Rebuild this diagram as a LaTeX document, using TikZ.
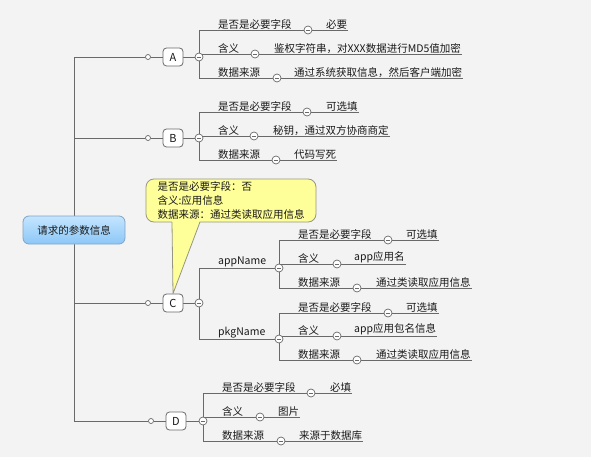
\documentclass[tikz,border=0pt]{standalone}
\usepackage{fontspec}
\setmainfont{Noto Sans CJK SC}
\usetikzlibrary{calc}
\definecolor{wiregray}{RGB}{105,105,105}
\definecolor{inkgray}{RGB}{25,25,25}
\definecolor{bgfill}{RGB}{243,243,243}
\definecolor{rootTop}{RGB}{196,229,255}
\definecolor{rootBot}{RGB}{140,199,247}
\definecolor{rootEdge}{RGB}{128,164,200}
\definecolor{noteFill}{RGB}{255,255,153}
\definecolor{noteEdge}{RGB}{150,150,130}
\pgfdeclarelayer{lines}
\pgfsetlayers{lines,main}
\tikzset{
	wire/.style={draw=wiregray, line width=0.8pt},
	rootbox/.style={rounded corners=6pt, draw=rootEdge, line width=0.8pt, top color=rootTop, bottom color=rootBot, minimum width=102pt, minimum height=28pt, inner sep=0pt},
	topic/.style={rounded corners=3.5pt, draw=wiregray, line width=0.8pt, fill=white, minimum width=20pt, minimum height=18pt, inner sep=0pt, font=\fontsize{11}{12}\selectfont},
	knob/.style={circle, draw=wiregray, line width=0.7pt, fill=white, inner sep=0pt, minimum size=5pt},
	fold/.style={circle, draw=wiregray, line width=0.7pt, fill=white, inner sep=0pt, minimum size=8pt,
		path picture={\draw[wiregray, line width=0.6pt] ([xshift=-2.2pt]path picture bounding box.center) -- ([xshift=2.2pt]path picture bounding box.center);}},
	leaf/.style={anchor=south west, inner xsep=1pt, inner ysep=0.6pt},
	note/.style={rounded corners=8pt, draw=noteEdge, line width=0.8pt, fill=noteFill, minimum width=170pt, minimum height=43pt, align=left, inner sep=0pt}
}

\begin{document}
\begin{tikzpicture}[x=1pt,y=-1pt,font=\fontsize{10.5}{14}\selectfont,text=inkgray]
	%%%%% START %%%%%
	\useasboundingbox (0,0) rectangle (591,457);
	
	\node[rootbox] (root) at (74,230) {请求的参数信息};
	
	% A
	\node[knob] (adot) at (148,57) {};
	\node[topic] (A) at (173,57) {A};
	\node[fold] (am) at (199,57) {};
	\node[leaf] (a1k) at (217,30) {是否是必要字段};
	\node[fold] (a1m) at (308,30) {};
	\node[leaf] (a1v) at (325,30) {必要};
	\node[leaf] (a2k) at (217,54) {含义};
	\node[fold] (a2m) at (255,54) {};
	\node[leaf] (a2v) at (273,54) {鉴权字符串，对XXX数据进行MD5值加密};
	\node[leaf] (a3k) at (217,78) {数据来源};
	\node[fold] (a3m) at (277,78) {};
	\node[leaf] (a3v) at (293,78) {通过系统获取信息，然后客户端加密};
	
	% B
	\node[knob] (bdot) at (148,138) {};
	\node[topic] (B) at (173,138) {B};
	\node[fold] (bm) at (199,138) {};
	\node[leaf] (b1k) at (217,112) {是否是必要字段};
	\node[fold] (b1m) at (307,112) {};
	\node[leaf] (b1v) at (325,112) {可选填};
	\node[leaf] (b2k) at (217,136) {含义};
	\node[fold] (b2m) at (254,136) {};
	\node[leaf] (b2v) at (272,136) {秘钥，通过双方协商商定};
	\node[leaf] (b3k) at (217,160) {数据来源};
	\node[fold] (b3m) at (276,160) {};
	\node[leaf] (b3v) at (293,160) {代码写死};
	
	% C
	\node[knob] (cdot) at (148,303) {};
	\node[topic] (C) at (173,303) {C};
	\node[fold] (cm) at (199,303) {};
	\node[leaf] (appk) at (217,268) {appName};
	\node[fold] (appm) at (279,268) {};
	\node[leaf] (c1k) at (297,240) {是否是必要字段};
	\node[fold] (c1m) at (388,240) {};
	\node[leaf] (c1v) at (405,240) {可选填};
	\node[leaf] (c2k) at (297,264) {含义};
	\node[fold] (c2m) at (337,264) {};
	\node[leaf] (c2v) at (353,264) {app应用名};
	\node[leaf] (c3k) at (297,288) {数据来源};
	\node[fold] (c3m) at (357,288) {};
	\node[leaf] (c3v) at (375,288) {通过类读取应用信息};
	\node[leaf] (pkgk) at (217,339) {pkgName};
	\node[fold] (pkgm) at (279,339) {};
	\node[leaf] (c4k) at (297,313) {是否是必要字段};
	\node[fold] (c4m) at (388,313) {};
	\node[leaf] (c4v) at (405,313) {可选填};
	\node[leaf] (c5k) at (297,336) {含义};
	\node[fold] (c5m) at (337,336) {};
	\node[leaf] (c5v) at (353,336) {app应用包名信息};
	\node[leaf] (c6k) at (297,360) {数据来源};
	\node[fold] (c6m) at (357,360) {};
	\node[leaf] (c6v) at (375,360) {通过类读取应用信息};
	
	% D
	\node[knob] (ddot) at (151,421) {};
	\node[topic] (D) at (176,421) {D};
	\node[fold] (dm) at (203,421) {};
	\node[leaf] (d1k) at (221,393) {是否是必要字段};
	\node[fold] (d1m) at (311,393) {};
	\node[leaf] (d1v) at (329,393) {必填};
	\node[leaf] (d2k) at (221,417) {含义};
	\node[fold] (d2m) at (260,417) {};
	\node[leaf] (d2v) at (277,417) {图片};
	\node[leaf] (d3k) at (221,441) {数据来源};
	\node[fold] (d3m) at (281,441) {};
	\node[leaf] (d3v) at (298,441) {来源于数据库};
	
	\begin{pgfonlayer}{lines}
		\fill[bgfill] (0,0) rectangle (591,457);
		
		\draw[wire] (root) |- (adot);
		\draw[wire] (root) |- (bdot);
		\draw[wire] (root) |- (cdot);
		\draw[wire] (root) |- (ddot);
		
		\draw[wire] (adot) -- (A) -- (am);
		\draw[wire] (bdot) -- (B) -- (bm);
		\draw[wire] (cdot) -- (C) -- (cm);
		\draw[wire] (ddot) -- (D) -- (dm);
		
		\draw[wire] (am.center) |- (a1m) -- (a1v.south east);
		\draw[wire] (am.center) |- (a2m) -- (a2v.south east);
		\draw[wire] (am.center) |- (a3m) -- (a3v.south east);
		
		\draw[wire] (bm.center) |- (b1m) -- (b1v.south east);
		\draw[wire] (bm.center) |- (b2m) -- (b2v.south east);
		\draw[wire] (bm.center) |- (b3m) -- (b3v.south east);
		
		\draw[wire] (cm.center) |- (appm);
		\draw[wire] (cm.center) |- (pkgm);
		\draw[wire] (appm.center) |- (c1m) -- (c1v.south east);
		\draw[wire] (appm.center) |- (c2m) -- (c2v.south east);
		\draw[wire] (appm.center) |- (c3m) -- (c3v.south east);
		\draw[wire] (pkgm.center) |- (c4m) -- (c4v.south east);
		\draw[wire] (pkgm.center) |- (c5m) -- (c5v.south east);
		\draw[wire] (pkgm.center) |- (c6m) -- (c6v.south east);
		
		\draw[wire] (dm.center) |- (d1m) -- (d1v.south east);
		\draw[wire] (dm.center) |- (d2m) -- (d2v.south east);
		\draw[wire] (dm.center) |- (d3m) -- (d3v.south east);
	\end{pgfonlayer}
	
	% callout on C
	\node[note] (note) at (231,200.5) {是否是必要字段：否\\含义:应用信息\\数据来源：通过类读取应用信息};
	\fill[noteFill] (172,220.5) -- (C.north) -- (200,220.5) -- cycle;
	\draw[noteEdge, line width=0.8pt, line join=round] (172,222) -- (C.north) -- (200,222);
	
	%%%%% END %%%%%
\end{tikzpicture}
\end{document}
